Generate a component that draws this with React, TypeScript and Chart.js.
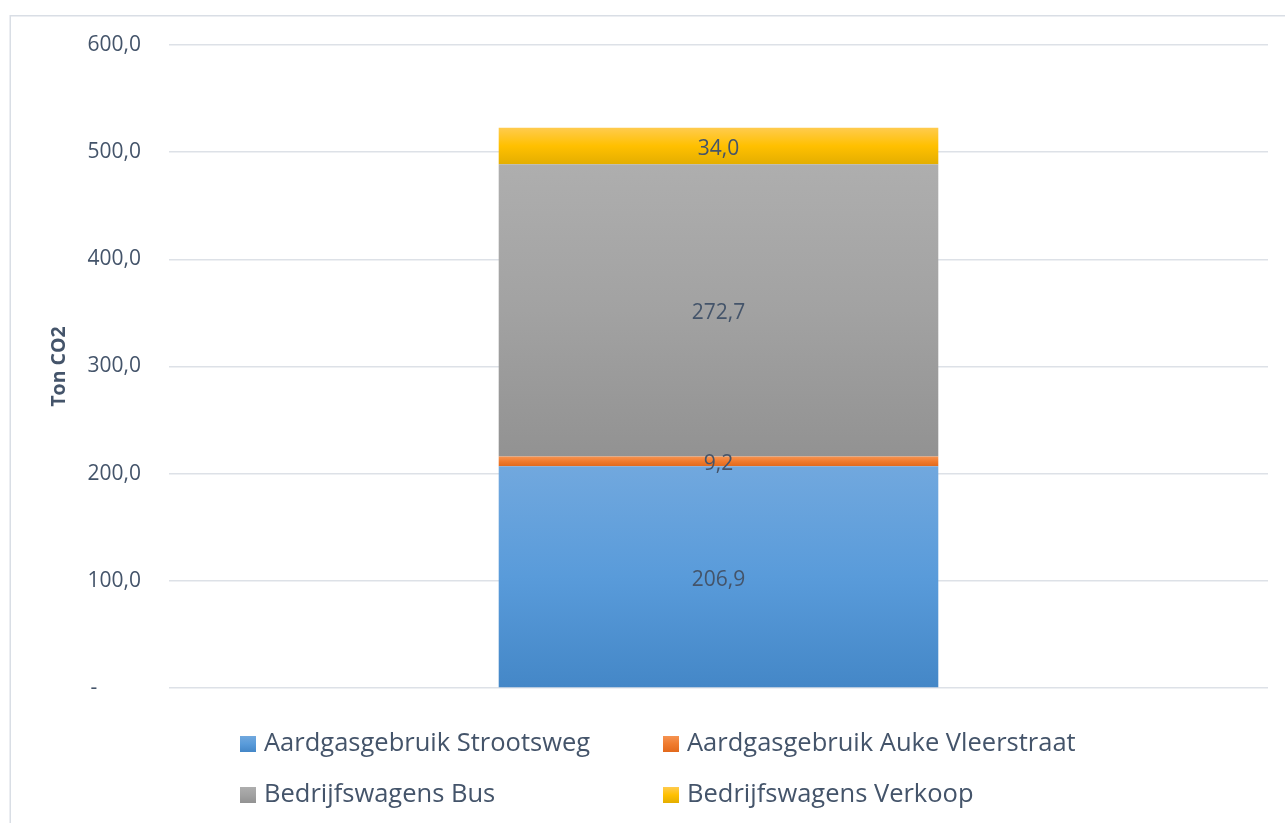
import React, { useEffect, useRef } from 'react';
import { Chart, registerables } from 'chart.js';

Chart.register(...registerables);

const categories = [''];
const seriesNames = [
  'Aardgasgebruik Strootsweg',
  'Aardgasgebruik Auke Vleerstraat',
  'Bedrijfswagens Bus',
  'Bedrijfswagens Verkoop',
];
const strootsweg = [206.9];
const aukeVleerstraat = [9.2];
const bedrijfswagensBus = [272.7];
const bedrijfswagensVerkoop = [34.0];
const yTickValues = [0, 100, 200, 300, 400, 500, 600];
const yTitle = 'Ton CO2';

const seriesValues = [strootsweg, aukeVleerstraat, bedrijfswagensBus, bedrijfswagensVerkoop];

const gradientStops: string[][] = [
  ['#71A8DE', '#599BDA', '#4487C7'],
  ['#F59352', '#F07B2E', '#E2691C'],
  ['#AEAEAE', '#A2A2A2', '#929292'],
  ['#FFCB4E', '#FFC000', '#E4AE00'],
];

const TEXT = '#44546A';
const GRID = '#DDE1E7';
const FONT = "'Open Sans', sans-serif";

function fmt(v: number): string {
  return v.toFixed(1).replace('.', ',');
}

function makeGradient(ctx: CanvasRenderingContext2D, top: number, bottom: number, stops: string[]) {
  const g = ctx.createLinearGradient(0, top, 0, bottom);
  g.addColorStop(0, stops[0]);
  g.addColorStop(0.5, stops[1]);
  g.addColorStop(1, stops[2]);
  return g;
}

const bgFor = (di: number) => (c: any) => {
  const chart = c.chart;
  const y = chart.scales && chart.scales.y;
  if (!y || c.type !== 'data') return gradientStops[di][1];
  let start = 0;
  for (let k = 0; k < di; k++) start += Number(chart.data.datasets[k].data[c.dataIndex]) || 0;
  const v = Number(chart.data.datasets[di].data[c.dataIndex]) || 0;
  const top = y.getPixelForValue(start + v);
  const bot = y.getPixelForValue(start);
  if (!isFinite(top) || !isFinite(bot) || top === bot) return gradientStops[di][1];
  return makeGradient(chart.ctx, top, bot, gradientStops[di]);
};

const decorPlugin = {
  id: 'decor',
  beforeDraw(chart: any) {
    const ctx = chart.ctx as CanvasRenderingContext2D;
    ctx.save();
    ctx.fillStyle = '#FFFFFF';
    ctx.fillRect(0, 0, chart.width, chart.height);
    ctx.strokeStyle = '#D9DEE5';
    ctx.lineWidth = 1.5;
    ctx.strokeRect(10.25, 15.75, chart.width + 50, chart.height + 50);
    ctx.restore();
  },
  afterDatasetsDraw(chart: any) {
    const ctx = chart.ctx as CanvasRenderingContext2D;
    ctx.save();
    ctx.fillStyle = TEXT;
    ctx.font = `21px ${FONT}`;
    ctx.textAlign = 'center';
    ctx.textBaseline = 'middle';
    chart.data.datasets.forEach((ds: any, di: number) => {
      const meta = chart.getDatasetMeta(di);
      meta.data.forEach((el: any, i: number) => {
        const p = el.getCenterPoint();
        ctx.fillText(fmt(Number(ds.data[i])), p.x, p.y + 3);
      });
    });
    ctx.restore();
  },
  afterDraw(chart: any) {
    const ctx = chart.ctx as CanvasRenderingContext2D;
    const area = chart.chartArea;
    ctx.save();
    // y-axis title
    ctx.fillStyle = TEXT;
    ctx.font = `bold 19.5px ${FONT}`;
    ctx.textAlign = 'center';
    ctx.textBaseline = 'middle';
    ctx.translate(59, (area.top + area.bottom) / 2);
    ctx.rotate(-Math.PI / 2);
    ctx.fillText(yTitle, 0, 0);
    ctx.restore();

    // legend: 2 columns x 2 rows
    ctx.save();
    ctx.font = `25.5px ${FONT}`;
    ctx.textAlign = 'left';
    ctx.textBaseline = 'middle';
    const colX = [240, 663];
    const rowY = [744, 795];
    chart.data.datasets.forEach((ds: any, di: number) => {
      const col = di % 2;
      const row = Math.floor(di / 2);
      const x = colX[col];
      const y = rowY[row];
      const sz = 16;
      ctx.fillStyle = makeGradient(ctx, y - sz / 2, y + sz / 2, gradientStops[di]);
      ctx.fillRect(x, y - sz / 2, sz, sz);
      ctx.fillStyle = TEXT;
      ctx.fillText(ds.label, x + 24, y);
    });
    ctx.restore();
  },
};

export default function App() {
  const ref = useRef<HTMLCanvasElement | null>(null);
  useEffect(() => {
    if (!ref.current) return;
    const chart = new Chart(ref.current, {
      type: 'bar',
      data: {
        labels: categories,
        datasets: seriesNames.map((name, di) => ({
          label: name,
          data: seriesValues[di],
          backgroundColor: bgFor(di),
          borderWidth: 0,
          barPercentage: 0.4,
          categoryPercentage: 1,
        })),
      },
      options: {
        animation: false,
        responsive: true,
        maintainAspectRatio: false,
        layout: { padding: { left: 0, right: 17, top: 45, bottom: 135 } },
        plugins: {
          legend: { display: false },
          tooltip: { enabled: false },
          title: { display: false },
        },
        scales: {
          x: {
            stacked: true,
            display: false,
            grid: { display: false },
          },
          y: {
            stacked: true,
            min: 0,
            max: 600,
            afterFit: (s: any) => {
              s.width = 169;
            },
            afterBuildTicks: (s: any) => {
              s.ticks = yTickValues.map((v) => ({ value: v }));
            },
            border: { display: false },
            grid: { color: GRID, lineWidth: 1.5, drawTicks: false },
            ticks: {
              padding: 28,
              color: TEXT,
              font: { family: FONT, size: 21 },
              callback: (v: any) => (Number(v) === 0 ? '-        ' : fmt(Number(v))),
            },
          },
        },
      },
      plugins: [decorPlugin],
    });
    return () => chart.destroy();
  }, []);

  return (
    <div style={{ position: 'fixed', left: 0, top: 0, width: 1285, height: 823, background: '#fff' }}>
      <canvas ref={ref} />
    </div>
  );
}
